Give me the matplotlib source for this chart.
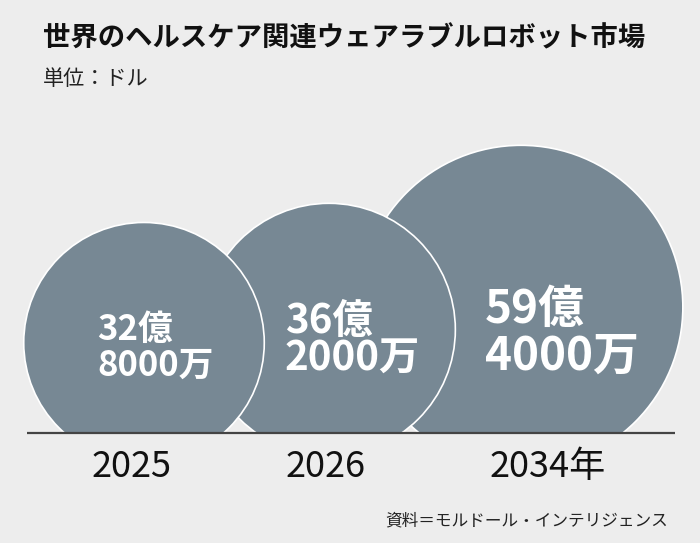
"""
Bubble chart: global healthcare wearable robot market (2025 / 2026 / 2034)
"""

import numpy as np
import matplotlib.pyplot as plt
from matplotlib.patches import Circle, Rectangle

plt.rcParams['font.family'] = ['Noto Sans CJK JP', 'DejaVu Sans']

# Data (unit: 100 million USD)
years = ['2025', '2026', '2034年']
market_oku = [32.8, 36.2, 59.4]
label_oku = ['32億', '36億', '59億']
label_man = ['8000万', '2000万', '4000万']

title = '世界のヘルスケア関連ウェアラブルロボット市場'
subtitle = '単位：ドル'
source = '資料＝モルドール・インテリジェンス'

# Layout (pixel space, y grows downward)
W, H = 700, 543
baseline_y = 433
center_x = [144, 329, 521]
sink = [30, 23, 36]            # how far each circle dips below the baseline
scale_k = 21.0                 # radius = k * sqrt(value)
label_x = [97, 285, 485]
label_y1 = [329, 321, 310]
label_y2 = [365, 358, 357]
label_size = [25, 29, 33]
year_x = [132, 326, 548]

BG = '#ededed'
FILL = '#778894'

fig = plt.figure(figsize=(W / 100, H / 100), dpi=100, facecolor=BG)
ax = fig.add_axes([0, 0, 1, 1])
ax.set_xlim(0, W)
ax.set_ylim(H, 0)
ax.set_aspect('equal')
ax.axis('off')
ax.set_facecolor(BG)

clip = Rectangle((0, 0), W, baseline_y, transform=ax.transData, visible=False)
ax.add_patch(clip)

# circles: area proportional to market size, earlier year drawn on top
for i, v in enumerate(market_oku):
    r = scale_k * np.sqrt(v)
    cy = baseline_y + sink[i] - r
    c = Circle((center_x[i], cy), r, facecolor=FILL, edgecolor='white',
               linewidth=1.2, zorder=10 - i)
    ax.add_patch(c)
    c.set_clip_path(clip)
    ax.text(label_x[i], label_y1[i], label_oku[i], color='white', fontsize=label_size[i],
            fontweight='bold', ha='left', va='center', zorder=20)
    ax.text(label_x[i], label_y2[i], label_man[i], color='white', fontsize=label_size[i],
            fontweight='bold', ha='left', va='center', zorder=20)
    ax.text(year_x[i], 467, years[i], fontsize=26, color='#111111', ha='center', va='center')

# baseline
ax.plot([27, 675], [baseline_y, baseline_y], color='#444444', lw=1.6, zorder=15,
        solid_capstyle='butt')

# titles and source
ax.text(43, 38, title, fontsize=19.7, fontweight='bold', color='#111111', ha='left', va='center')
ax.text(43, 79, subtitle, fontsize=15.2, color='#222222', ha='left', va='center')
ax.text(668, 521, source, fontsize=12, color='#222222', ha='right', va='center')

plt.savefig('out.png', dpi=100, facecolor=BG)
